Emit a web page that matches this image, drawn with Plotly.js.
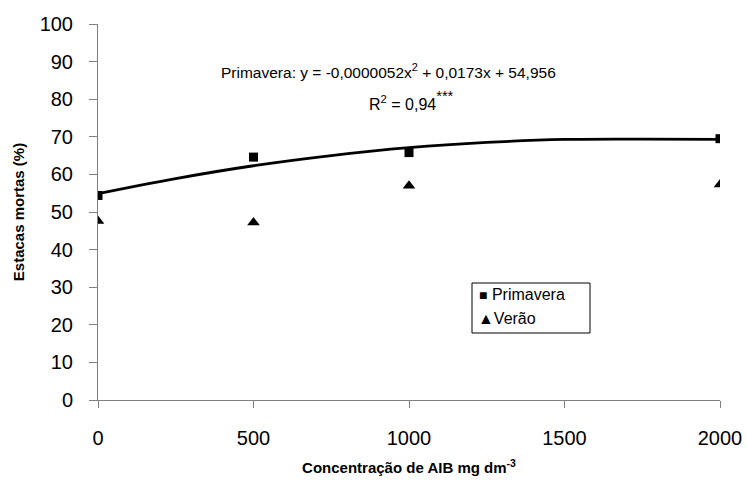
<!DOCTYPE html>
<html>
<head>
<meta charset="utf-8">
<script src="https://cdn.plot.ly/plotly-3.0.1.min.js"></script>
<style>html,body{margin:0;padding:0;background:#fff;}#chart{width:747px;height:480px;}</style>
</head>
<body>
<div id="chart"></div>
<script>
// Data
const concentrations = [0, 500, 1000, 2000];
const primavera = [54.4, 64.6, 65.8, 69.5];
const verao = [47.6, 47.2, 57.0, 57.3];
// Fitted trendline (Primavera) vertices
const trendX = [0, 250, 500, 750, 1000, 1250, 1500, 1750, 2000];
const trendY = [54.9, 58.9, 62.3, 65.0, 67.1, 68.5, 69.3, 69.4, 69.3];
const xTicks = [0, 500, 1000, 1500, 2000];
const yTicks = [0, 10, 20, 30, 40, 50, 60, 70, 80, 90, 100];
const seriesNames = ['Primavera', 'Verão'];

const traces = [
  {x: trendX, y: trendY, mode: 'lines', line: {color: '#000', width: 2.8, shape: 'spline'}, showlegend: false, hoverinfo: 'skip'},
  {x: concentrations, y: primavera, mode: 'markers', name: seriesNames[0], showlegend: false,
   marker: {symbol: 'square', size: 9, color: '#000'}},
  {x: concentrations, y: verao, mode: 'markers', name: seriesNames[1], showlegend: false,
   marker: {symbol: 'triangle-up', size: 11, color: '#000'}}
];

const F = 'Liberation Sans, Arial, sans-serif';
const px = v => (v - 98) / 622;       // pixel x -> paper
const py = v => (400 - v) / 376;      // pixel y -> paper

const layout = {
  width: 747, height: 480,
  margin: {l: 98, r: 27, t: 24, b: 80},
  paper_bgcolor: '#fff', plot_bgcolor: '#fff',
  font: {family: F, color: '#000'},
  showlegend: false,
  xaxis: {range: [0, 2000], tickvals: xTicks, ticktext: xTicks.map(String),
    showgrid: false, zeroline: false, showline: true, linecolor: '#808080', linewidth: 1,
    ticks: 'outside', ticklen: 7, tickcolor: '#808080', ticklabelstandoff: 13,
    tickfont: {size: 20}, title: {text: '<b>Concentração de AIB mg dm<sup>-3</sup></b>', font: {size: 15}, standoff: 14}},
  yaxis: {range: [0, 100], tickvals: yTicks, ticktext: yTicks.map(String),
    showgrid: false, zeroline: false, showline: true, linecolor: '#808080', linewidth: 1,
    ticks: 'outside', ticklen: 8, tickcolor: '#808080', ticklabelstandoff: 12,
    tickfont: {size: 20}, title: {text: '<b>Estacas mortas (%)</b>', font: {size: 15}, standoff: 11}},
  shapes: [
    {type: 'rect', xref: 'paper', yref: 'paper', x0: px(472), x1: px(590), y0: py(333), y1: py(283),
     line: {color: '#000', width: 1}, fillcolor: '#fff', layer: 'above'}
  ],
  annotations: [
    {xref: 'paper', yref: 'paper', x: px(388), y: py(71), xanchor: 'center', yanchor: 'middle', showarrow: false,
     text: 'Primavera: y = -0,0000052x<sup>2</sup> + 0,0173x + 54,956', font: {size: 15.5}},
    {xref: 'paper', yref: 'paper', x: px(412), y: py(101), xanchor: 'center', yanchor: 'middle', showarrow: false,
     text: 'R<sup>2</sup> = 0,94<span style="font-size:21px"><sup>***</sup></span>', font: {size: 16}},
    {xref: 'paper', yref: 'paper', x: px(477), y: py(294), xanchor: 'left', yanchor: 'middle', showarrow: false,
     text: '<span style="font-size:14px">■</span> ' + seriesNames[0], font: {size: 16}},
    {xref: 'paper', yref: 'paper', x: px(476), y: py(318), xanchor: 'left', yanchor: 'middle', showarrow: false,
     text: '<span style="font-size:16px">▲</span>' + seriesNames[1], font: {size: 16}}
  ]
};

Plotly.newPlot('chart', traces, layout, {displayModeBar: false, staticPlot: true});
</script>
</body>
</html>
